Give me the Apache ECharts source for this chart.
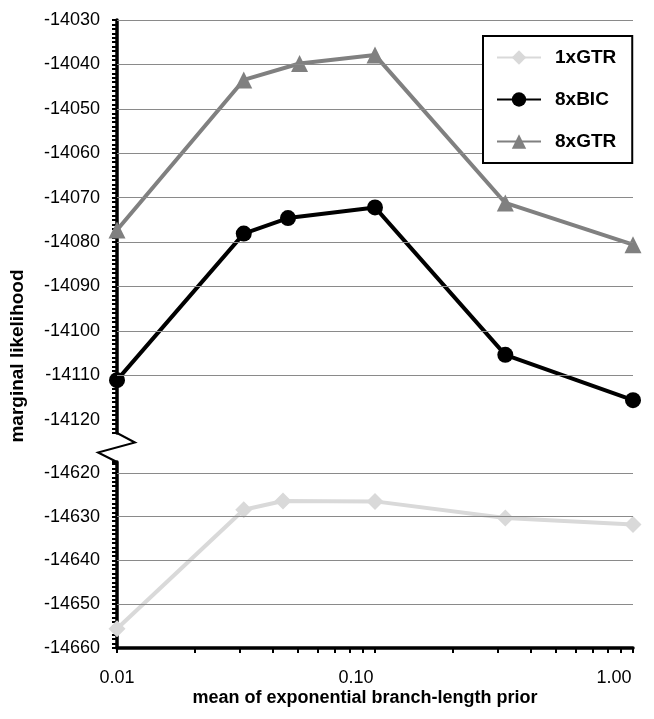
<!DOCTYPE html>
<html>
<head>
<meta charset="utf-8">
<script src="https://cdn.jsdelivr.net/npm/echarts@6/dist/echarts.min.js"></script>
<style>
html,body{margin:0;padding:0;background:#fff;}
#c{width:654px;height:719px;}
</style>
</head>
<body>
<div id="c"></div>
<script>
// ---- data ----
const seriesNames = ['1xGTR', '8xBIC', '8xGTR'];
const x1xGTR = [0.01, 0.031, 0.044, 0.1, 0.32, 1.0];
const y1xGTR = [-14655.6, -14628.4, -14626.4, -14626.5, -14630.3, -14631.8];
const x8xBIC = [0.01, 0.031, 0.046, 0.1, 0.32, 1.0];
const y8xBIC = [-14111.1, -14078.1, -14074.6, -14072.2, -14105.4, -14115.6];
const x8xGTR = [0.01, 0.031, 0.051, 0.1, 0.32, 1.0];
const y8xGTR = [-14077.3, -14043.5, -14039.8, -14037.9, -14071.2, -14080.6];
const upperGridValues = [-14030, -14040, -14050, -14060, -14070, -14080, -14090, -14100, -14110];
const lowerGridValues = [-14620, -14630, -14640, -14650];
const xTicks = [0.01, 0.1, 1];

const pairs = (xs, ys) => xs.map((x, i) => [x, ys[i]]);
const FONT = '"Liberation Sans", Arial, sans-serif';

const chart = echarts.init(document.getElementById('c'), null, {renderer: 'canvas'});

const yLabelFmt = v => (Math.abs(v % 10) < 1e-6 ? String(Math.round(v)) : '');

const commonY = {
  type: 'value',
  interval: 1,
  axisLine: {show: true, lineStyle: {color: '#000', width: 3.5}},
  axisTick: {show: true, inside: false, length: 5, lineStyle: {color: '#000', width: 2}},
  axisLabel: {formatter: yLabelFmt, color: '#000', fontSize: 18, fontFamily: FONT, margin: 17, showMinLabel: true, showMaxLabel: true},
  splitLine: {show: false}
};

const gridLine = (vals, xi, yi) => ({
  type: 'line', name: 'grid' + xi, xAxisIndex: xi, yAxisIndex: yi, data: [], z: 0, silent: true,
  markLine: {silent: true, symbol: 'none', label: {show: false}, animation: false,
    lineStyle: {color: '#8a8a8a', width: 1.2, type: 'solid'},
    data: vals.map(v => ({yAxis: v}))}
});

const xLabelFmt = v => {
  const t = Number(v).toFixed(2);
  return Math.abs(v - xTicks[0]) < 1e-9 ? t : '{s|' + t + '}';
};

chart.setOption({
  animation: false,
  backgroundColor: '#fff',
  grid: [
    {left: 117, right: 21, top: 20, height: 413},
    {left: 117, right: 21, top: 462, bottom: 71}
  ],
  xAxis: [
    {type: 'log', logBase: 10, min: 0.01, max: 1, gridIndex: 0, show: false},
    {type: 'log', logBase: 10, min: 0.01, max: 1, gridIndex: 1,
      axisLine: {show: true, lineStyle: {color: '#000', width: 3.5}},
      axisTick: {show: true, length: 5, lineStyle: {color: '#000', width: 2}},
      minorTick: {show: true, splitNumber: 9, length: 5, lineStyle: {color: '#000', width: 2}},
      axisLabel: {formatter: xLabelFmt, color: '#000', fontSize: 18, fontFamily: FONT, margin: 21,
        rich: {s: {fontSize: 18, fontFamily: FONT, color: '#000', padding: [0, 38, 0, 0]}}},
      splitLine: {show: false},
      name: 'mean of exponential branch-length prior',
      nameLocation: 'middle', nameGap: 41,
      nameTextStyle: {fontSize: 18, fontWeight: 'bold', color: '#000', fontFamily: FONT, padding: [0, 20, 0, 0]}
    }
  ],
  yAxis: [
    Object.assign({}, commonY, {gridIndex: 0, min: -14123, max: -14030}),
    Object.assign({}, commonY, {gridIndex: 1, min: -14660, max: -14617.5})
  ],
  legend: {
    data: seriesNames,
    orient: 'vertical',
    left: 483, top: 36,
    padding: [12, 16, 12, 13],
    itemWidth: 44, itemHeight: 18, itemGap: 23,
    borderColor: '#000', borderWidth: 2,
    backgroundColor: '#fff',
    textStyle: {fontSize: 19, fontWeight: 'bold', color: '#000', fontFamily: FONT, padding: [0, 0, 0, 9]},
    z: 10
  },
  series: [
    gridLine(upperGridValues, 0, 0),
    gridLine(lowerGridValues, 1, 1),
    {name: '1xGTR', type: 'line', xAxisIndex: 1, yAxisIndex: 1, data: pairs(x1xGTR, y1xGTR),
      symbol: 'diamond', symbolSize: 17, z: 3,
      lineStyle: {color: '#d9d9d9', width: 4}, itemStyle: {color: '#d9d9d9'}},
    {name: '8xBIC', type: 'line', xAxisIndex: 0, yAxisIndex: 0, data: pairs(x8xBIC, y8xBIC),
      symbol: 'circle', symbolSize: 16, z: 4,
      lineStyle: {color: '#000', width: 4}, itemStyle: {color: '#000'}},
    {name: '8xGTR', type: 'line', xAxisIndex: 0, yAxisIndex: 0, data: pairs(x8xGTR, y8xGTR),
      symbol: 'triangle', symbolSize: 17, z: 3,
      lineStyle: {color: '#808080', width: 4}, itemStyle: {color: '#808080'}}
  ]
});

// axis-break zigzag and y-axis title, positioned from the axes
const pTop = chart.convertToPixel({xAxisIndex: 0, yAxisIndex: 0}, [0.01, -14123]);
const pBot = chart.convertToPixel({xAxisIndex: 1, yAxisIndex: 1}, [0.01, -14617.5]);
const midY = (pTop[1] + pBot[1]) / 2;
chart.setOption({
  graphic: [
    {type: 'polyline', z: 20, silent: true,
      shape: {points: [[pTop[0], pTop[1]], [pTop[0] + 18, midY - 5], [pTop[0] - 19, midY + 5], [pBot[0], pBot[1]]]},
      style: {stroke: '#000', lineWidth: 2, fill: null}},
    {type: 'text', z: 20, silent: true, x: 18, y: 356, rotation: Math.PI / 2,
      style: {text: 'marginal likelihood', fontSize: 19, fontWeight: 'bold', fontFamily: FONT, fill: '#000',
        align: 'center', verticalAlign: 'middle'}}
  ]
});
</script>
</body>
</html>
